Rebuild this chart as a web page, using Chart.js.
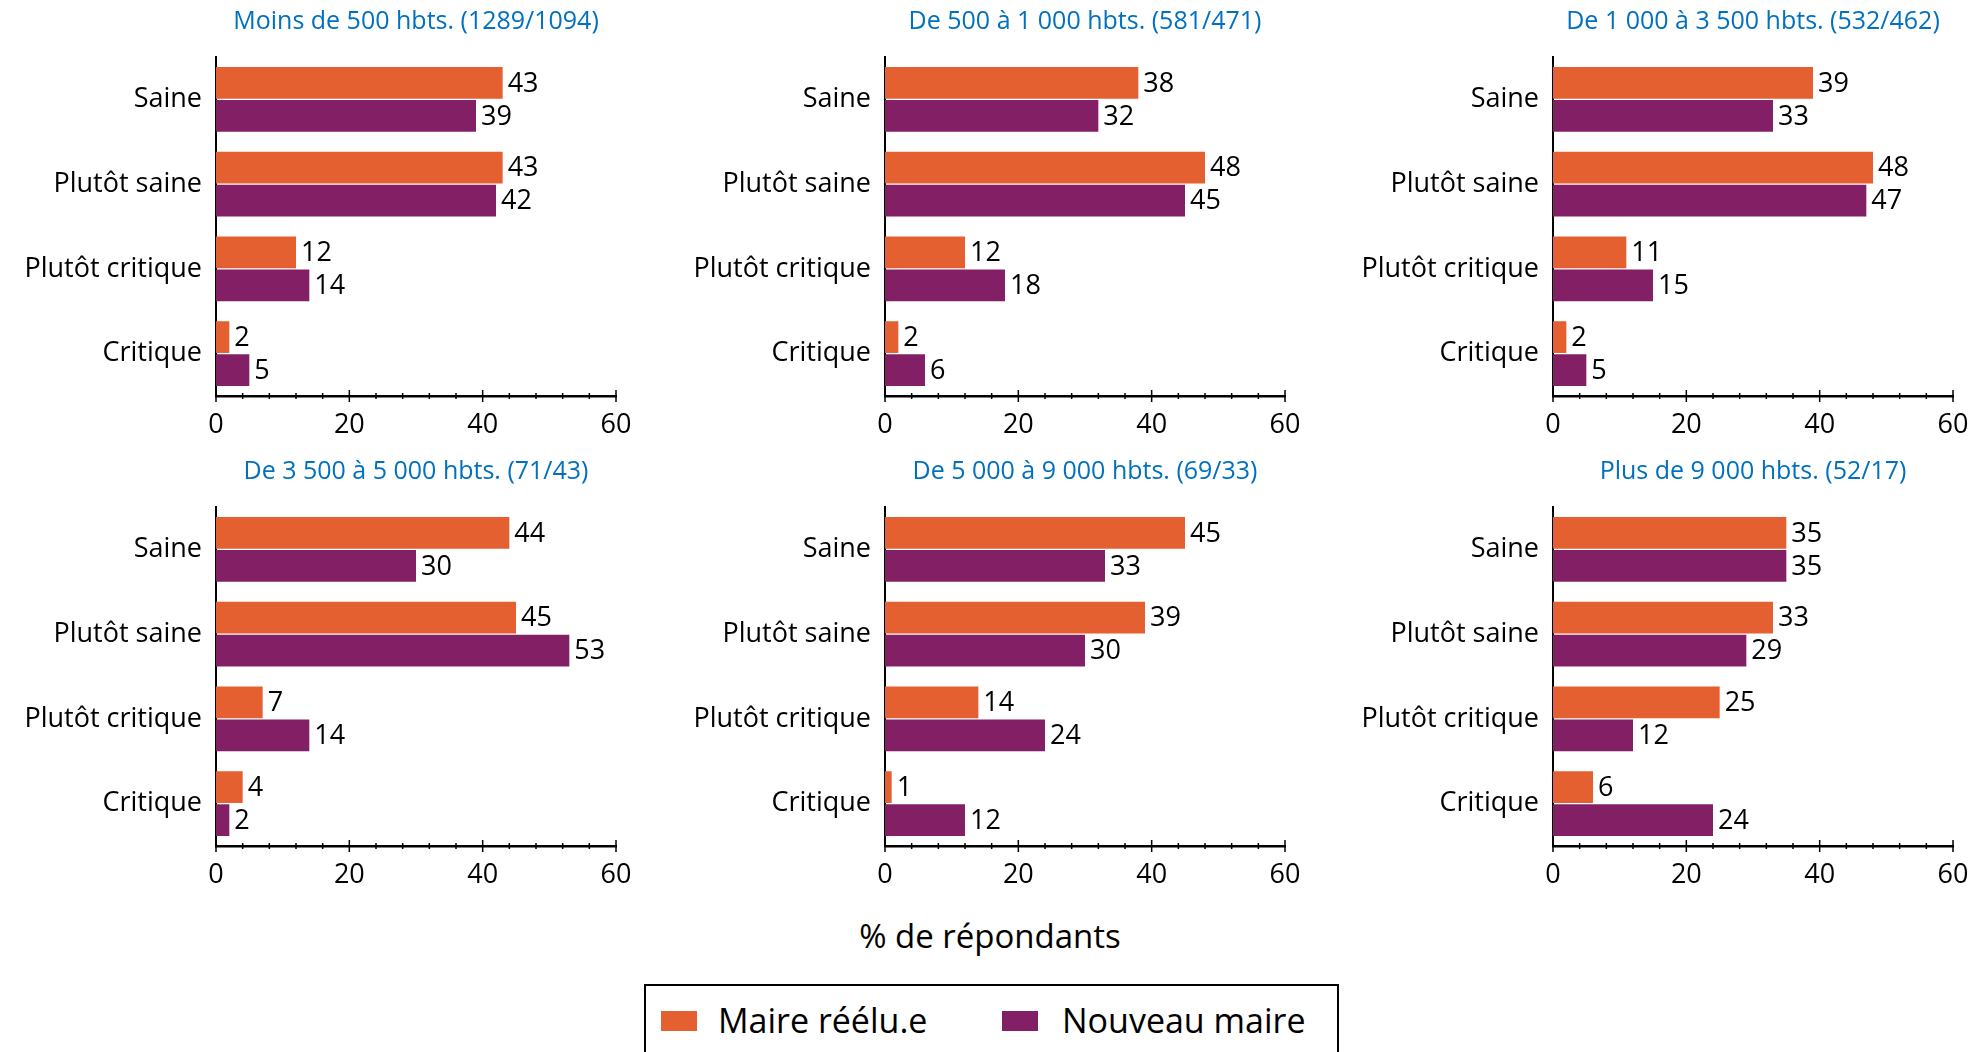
<!DOCTYPE html>
<html>
<head>
<meta charset="utf-8">
<script src="https://cdn.jsdelivr.net/npm/chart.js@4.4.1/dist/chart.umd.min.js"></script>
<style>
  body { margin: 0; background: #fff; width: 1985px; height: 1052px; overflow: hidden; position: relative; font-family: 'Open Sans', sans-serif; }
  canvas { position: absolute; }
  #xtitle { position: absolute; left: 740px; width: 500px; top: 913px; text-align: center; font-size: 33px; color: #000; }
  #legend { position: absolute; left: 644px; top: 984px; width: 695px; height: 100px; border: 2px solid #000; box-sizing: border-box; }
  .sw { position: absolute; width: 36px; height: 20px; top: 25px; }
  .lt { position: absolute; top: 12px; font-size: 34px; color: #000; line-height: 44px; }
</style>
</head>
<body>
<div id="xtitle">% de répondants</div>
<div id="legend">
  <div class="sw" style="left:15px;background:#E46031"></div>
  <div class="lt" style="left:72px">Maire réélu.e</div>
  <div class="sw" style="left:356px;background:#832065"></div>
  <div class="lt" style="left:416px">Nouveau maire</div>
</div>
<script>
const categories = ['Saine', 'Plutôt saine', 'Plutôt critique', 'Critique'];

const panelTitles = [
  'Moins de 500 hbts. (1289/1094)',
  'De 500 à 1 000 hbts. (581/471)',
  'De 1 000 à 3 500 hbts. (532/462)',
  'De 3 500 à 5 000 hbts. (71/43)',
  'De 5 000 à 9 000 hbts. (69/33)',
  'Plus de 9 000 hbts. (52/17)'
];

const maireReelu = [
  [43, 43, 12, 2],
  [38, 48, 12, 2],
  [39, 48, 11, 2],
  [44, 45, 7, 4],
  [45, 39, 14, 1],
  [35, 33, 25, 6]
];

const nouveauMaire = [
  [39, 42, 14, 5],
  [32, 45, 18, 6],
  [33, 47, 15, 5],
  [30, 53, 14, 2],
  [33, 30, 24, 12],
  [35, 29, 12, 24]
];

const xMax = 60;
const seriesNames = ['Maire réélu.e', 'Nouveau maire'];

// where each small chart sits on the page
const panelLeft = [0, 669, 1337, 0, 669, 1337];
const panelTop = [0, 0, 0, 450, 450, 450];
const panelWidth = [660, 660, 648, 660, 660, 648];

const ORANGE = '#E46031';
const PURPLE = '#832065';
const FONT = "'Open Sans', sans-serif";

// value labels at the end of each bar
const barLabels = {
  id: 'barLabels',
  afterDatasetsDraw(chart) {
    const ctx = chart.ctx;
    ctx.save();
    ctx.fillStyle = '#000';
    ctx.font = '27px ' + FONT;
    ctx.textBaseline = 'middle';
    ctx.textAlign = 'left';
    chart.data.datasets.forEach((ds, i) => {
      chart.getDatasetMeta(i).data.forEach((bar, j) => {
        ctx.fillText(ds.data[j], bar.x + 5, bar.y + 1);
      });
    });
    ctx.restore();
  }
};

// tick marks crossing the x axis line
const crossTicks = {
  id: 'crossTicks',
  afterDraw(chart) {
    const sx = chart.scales.x;
    const ctx = chart.ctx;
    const y0 = sx.top;
    ctx.save();
    ctx.strokeStyle = '#000';
    ctx.lineWidth = 1.5;
    sx.ticks.forEach(t => {
      const px = sx.getPixelForValue(t.value);
      const h = t.value % 20 === 0 ? 6 : 3;
      ctx.beginPath();
      ctx.moveTo(px, y0 - h);
      ctx.lineTo(px, y0 + h);
      ctx.stroke();
    });
    ctx.restore();
  }
};

panelTitles.forEach((title, p) => {
  const canvas = document.createElement('canvas');
  canvas.width = panelWidth[p];
  canvas.height = 446;
  canvas.style.left = panelLeft[p] + 'px';
  canvas.style.top = panelTop[p] + 'px';
  document.body.appendChild(canvas);

  new Chart(canvas.getContext('2d'), {
    type: 'bar',
    data: {
      labels: categories,
      datasets: [
        { label: seriesNames[0], data: maireReelu[p], backgroundColor: ORANGE },
        { label: seriesNames[1], data: nouveauMaire[p], backgroundColor: PURPLE }
      ]
    },
    options: {
      indexAxis: 'y',
      responsive: false,
      animation: false,
      categoryPercentage: 0.78,
      barPercentage: 0.96,
      layout: { padding: { left: 0, right: panelWidth[p] - 616, top: 0, bottom: 0 } },
      plugins: {
        legend: { display: false },
        tooltip: { enabled: false },
        title: {
          display: true,
          text: title,
          color: '#0070C0',
          fullSize: false,
          font: { family: FONT, size: 25, weight: 'normal' },
          padding: { top: 7, bottom: 20 }
        }
      },
      scales: {
        x: {
          min: 0,
          max: xMax,
          grid: { display: false, drawTicks: false },
          border: { display: true, color: '#000', width: 2.5 },
          ticks: {
            stepSize: 4,
            autoSkip: false,
            maxRotation: 0,
            color: '#000',
            padding: 13,
            font: { family: FONT, size: 27 },
            callback: v => (v % 20 === 0 ? v : '')
          },
          afterFit: s => { s.height = 50; }
        },
        y: {
          grid: { display: false, drawTicks: false },
          border: { display: true, color: '#000', width: 2 },
          ticks: {
            color: '#000',
            padding: 14,
            font: { family: FONT, size: 27 }
          },
          afterFit: s => { s.width = 216; }
        }
      }
    },
    plugins: [barLabels, crossTicks]
  });
});
</script>
</body>
</html>
